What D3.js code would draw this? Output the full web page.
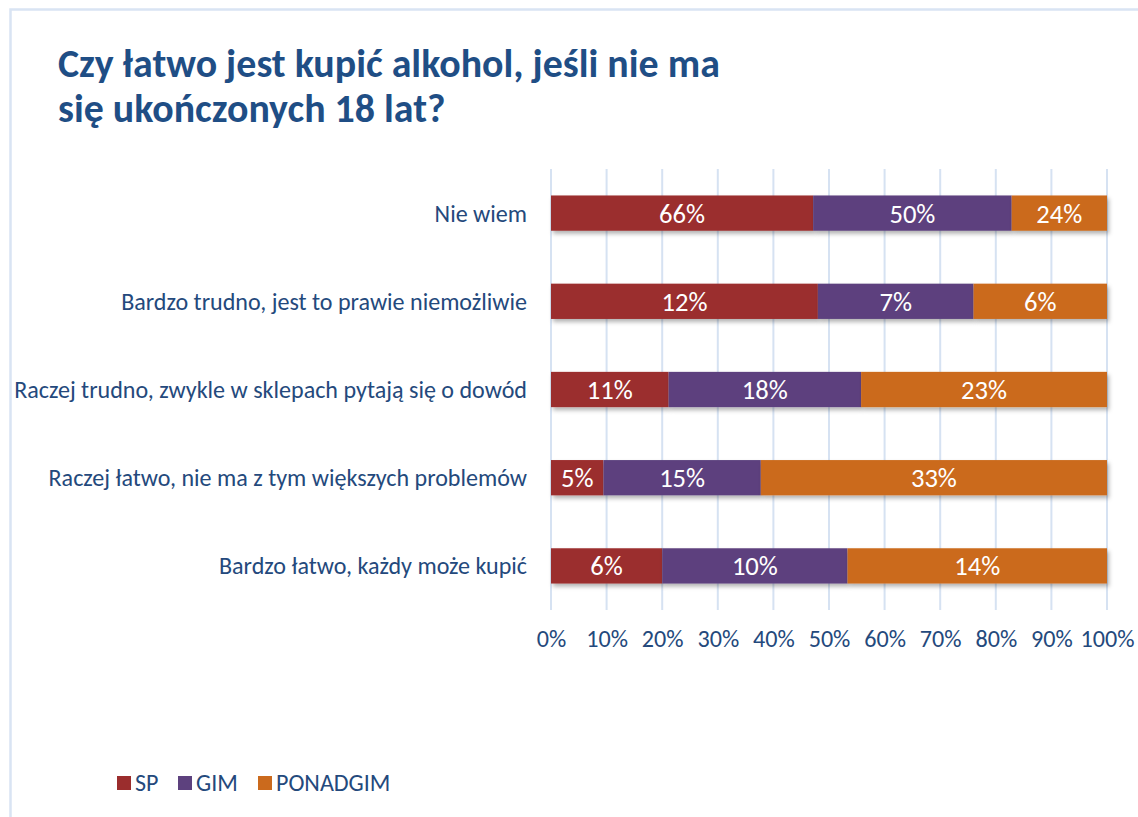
<!DOCTYPE html>
<html><head><meta charset="utf-8">
<script src="https://cdn.jsdelivr.net/npm/d3@7"></script>
<style>
html,body{margin:0;padding:0;background:#fff;}
svg{display:block;font-family:Carlito, Lato, "Open Sans", sans-serif;}
</style></head>
<body><svg id="c" width="1138" height="817"></svg>
<script>
const categories = ["Nie wiem","Bardzo trudno, jest to prawie niemożliwie","Raczej trudno, zwykle w sklepach pytają się o dowód","Raczej łatwo, nie ma z tym większych problemów","Bardzo łatwo, każdy może kupić"];
const seriesNames = ["SP","GIM","PONADGIM"];
const SP = [66,12,11,5,6];
const GIM = [50,7,18,15,10];
const PONADGIM = [24,6,23,33,14];
const tickValues = [0,0.1,0.2,0.3,0.4,0.5,0.6,0.7,0.8,0.9,1];
const colors = ["#9b2d2d","#5d417e","#cb6a1d"];
const textColor = "#24497c";

const svg = d3.select("#c");
const defs = svg.append("defs");
const f = defs.append("filter").attr("id","sh").attr("x","-5%").attr("y","-20%").attr("width","115%").attr("height","160%");
f.append("feDropShadow").attr("dx",2).attr("dy",3).attr("stdDeviation",2).attr("flood-color","#000").attr("flood-opacity",0.3);

function fitSize(sel, w){ const n=sel.node(); const cur=n.getComputedTextLength(); const fs=parseFloat(sel.attr("font-size")); return fs*w/cur; }

// frame
svg.append("path").attr("d","M10.5,817 V9.5 H1138").attr("fill","none").attr("stroke","#d9e4f3").attr("stroke-width",2.5);

// title
const title = svg.append("g").attr("fill","#1f4e85").attr("font-weight","bold");
const t1 = title.append("text").attr("x",58).attr("y",77).attr("font-size",34).text("Czy łatwo jest kupić alkohol, jeśli nie ma");
const t2 = title.append("text").attr("x",58).attr("y",122).attr("font-size",34).text("się ukończonych 18 lat?");
const tfs = fitSize(t1, 662);
t1.attr("font-size", tfs); t2.attr("font-size", tfs);

const x = d3.scaleLinear().domain([0,1]).range([551,1107]);
const y = d3.scaleBand().domain(categories).range([169,610]).paddingInner(0.6).paddingOuter(0.3);

// grid
svg.append("g").selectAll("line").data(tickValues).join("line")
  .attr("x1",d=>x(d)).attr("x2",d=>x(d)).attr("y1",169).attr("y2",610)
  .attr("stroke","#d6e2f2").attr("stroke-width",2);

// x axis labels
const xAxis = d3.axisBottom(x).tickValues(tickValues).tickFormat(d3.format(".0%")).tickSize(0).tickPadding(0);
const xg = svg.append("g").attr("transform","translate(0,630)").call(xAxis);
xg.select(".domain").remove();
xg.selectAll("text").attr("fill",textColor).attr("font-size",19).attr("font-family","Carlito, Lato, 'Open Sans', sans-serif");
const lastTick = xg.selectAll("text").filter(d=>d===1);
const tkfs = fitSize(lastTick, 54);
xg.selectAll("text").attr("font-size", tkfs);

// data stacking
const rows = categories.map((c,i)=>({cat:c, SP:SP[i], GIM:GIM[i], PONADGIM:PONADGIM[i]}));
rows.forEach(r=>{ r.total=r.SP+r.GIM+r.PONADGIM; });
const norm = rows.map(r=>({cat:r.cat, SP:r.SP/r.total, GIM:r.GIM/r.total, PONADGIM:r.PONADGIM/r.total}));
const stack = d3.stack().keys(seriesNames)(norm);

const gBars = svg.append("g");
stack.forEach((layer,li)=>{
  gBars.append("g").selectAll("rect").data(layer).join("rect")
    .attr("x",d=>x(d[0])).attr("width",d=>x(d[1])-x(d[0]))
    .attr("y",d=>y(d.data.cat)).attr("height",y.bandwidth())
    .attr("fill",colors[li]).attr("filter","url(#sh)");
});
const labelG = gBars.append("g");
stack.forEach((layer,li)=>{
  const key = seriesNames[li];
  labelG.append("g").selectAll("text").data(layer).join("text")
    .attr("x",d=>(x(d[0])+x(d[1]))/2).attr("y",d=>y(d.data.cat)+y.bandwidth()/2)
    .attr("dy","0.36em").attr("text-anchor","middle").attr("fill","#fff").attr("font-size",21)
    .text((d,i)=>rows[i][key]+"%");
});
const firstLab = labelG.select("g").select("text");
const bfs = fitSize(firstLab, 46);
labelG.selectAll("text").attr("font-size", bfs);

// y axis labels
const yg = svg.append("g");
yg.selectAll("text").data(categories).join("text")
  .attr("x",527).attr("y",d=>y(d)+y.bandwidth()/2).attr("dy","0.35em")
  .attr("text-anchor","end").attr("fill",textColor).attr("font-size",19).text(d=>d);
const longLab = yg.selectAll("text").filter((d,i)=>i===2);
const yfs = fitSize(longLab, 513);
yg.selectAll("text").attr("font-size", yfs);

// legend
const legX = [117,178,258];
const lg = svg.append("g");
seriesNames.forEach((s,i)=>{
  lg.append("rect").attr("x",legX[i]).attr("y",776).attr("width",14).attr("height",14).attr("fill",colors[i]);
  lg.append("text").attr("x",legX[i]+18).attr("y",791).attr("fill",textColor).attr("font-size",yfs).text(s);
});
</script></body></html>
